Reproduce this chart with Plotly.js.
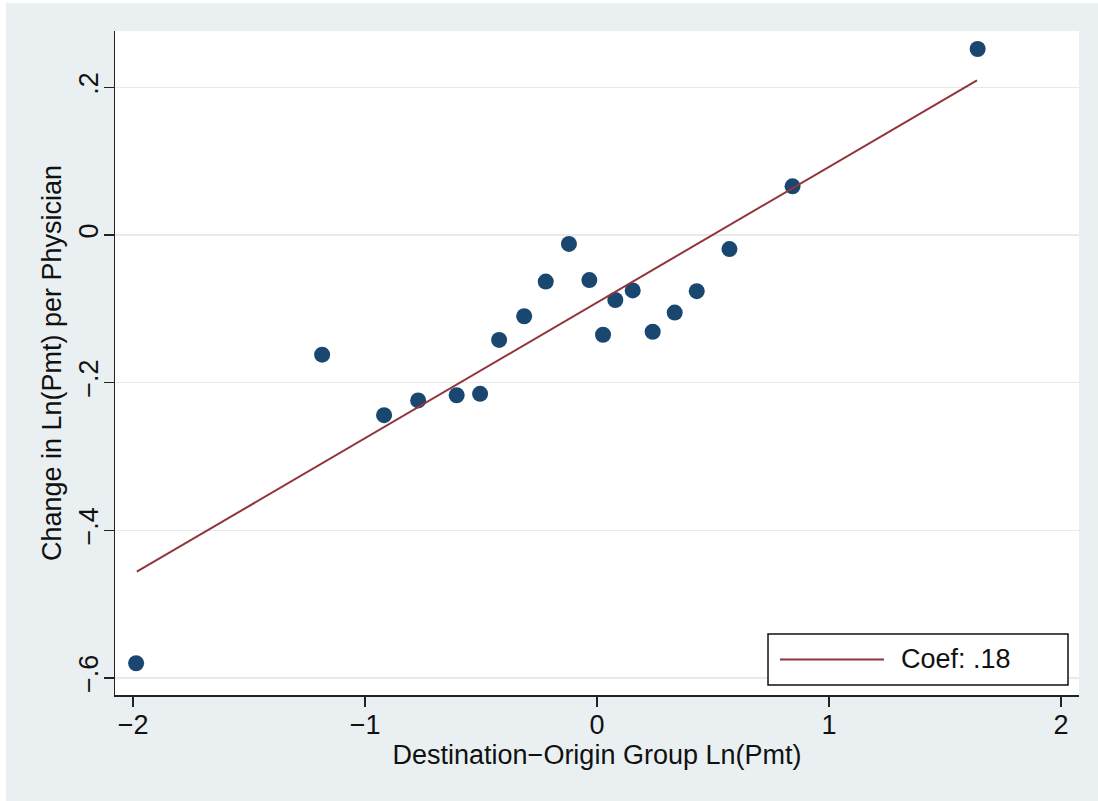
<!DOCTYPE html>
<html>
<head>
<meta charset="utf-8">
<script src="https://cdn.plot.ly/plotly-3.0.1.min.js"></script>
<style>
  html, body { margin: 0; padding: 0; background: #ffffff; }
  #chart { position: absolute; left: 6px; top: 3px; width: 1092px; height: 798px; }
</style>
</head>
<body>
<div id="chart"></div>
<script>
// Data
const groupDiff = [-1.987, -1.185, -0.918, -0.771, -0.605, -0.504, -0.422, -0.314, -0.221, -0.121,
                   -0.033, 0.026, 0.079, 0.154, 0.240, 0.335, 0.430, 0.571, 0.843, 1.641];
const changeLnPmt = [-0.580, -0.162, -0.244, -0.224, -0.217, -0.215, -0.142, -0.110, -0.063, -0.012,
                     -0.061, -0.135, -0.088, -0.075, -0.131, -0.105, -0.076, -0.019, 0.066, 0.252];
const fitX = [-1.984, 1.638];
const fitY = [-0.456, 0.2096];
const legendLabel = "Coef: .18";

const xTickVals = [-2, -1, 0, 1, 2];
const xTickText = ["\u22122", "\u22121", "0", "1", "2"];
const yTickVals = [-0.6, -0.4, -0.2, 0, 0.2];
const yTickText = ["\u2212.6", "\u2212.4", "\u2212.2", "0", ".2"];

const xTitle = "Destination\u2212Origin Group Ln(Pmt)";
const yTitle = "Change in Ln(Pmt) per Physician";

const FONT = "Liberation Sans, Arial, Helvetica, sans-serif";

const traces = [
  {
    x: groupDiff, y: changeLnPmt, type: "scatter", mode: "markers",
    marker: { color: "#1a476f", size: 16 },
    showlegend: false, hoverinfo: "x+y"
  },
  {
    x: fitX, y: fitY, type: "scatter", mode: "lines",
    line: { color: "#90353b", width: 2 },
    name: legendLabel, showlegend: false
  }
];

const layout = {
  width: 1092, height: 798,
  paper_bgcolor: "#eaf0f2",
  plot_bgcolor: "#ffffff",
  margin: { l: 109, r: 19, t: 28, b: 106 },
  font: { family: FONT, size: 27, color: "#111111" },
  showlegend: false,
  xaxis: {
    range: [-2.078, 2.078],
    tickvals: xTickVals, ticktext: xTickText,
    showgrid: false, zeroline: false,
    showline: true, linecolor: "#222222", linewidth: 1.5,
    ticks: "outside", ticklen: 10, tickwidth: 1.5, tickcolor: "#222222",
    tickfont: { size: 27 },
    ticklabelstandoff: -5,
    title: { text: xTitle, font: { size: 27 }, standoff: 1 },
    automargin: false
  },
  yaxis: {
    range: [-0.623, 0.2764],
    tickvals: yTickVals, ticktext: yTickText,
    tickangle: -90,
    showgrid: true, gridcolor: "#eaeaea", gridwidth: 1.5,
    zeroline: false,
    showline: true, linecolor: "#222222", linewidth: 1.5,
    ticks: "outside", ticklen: 10, tickwidth: 1.5, tickcolor: "#222222",
    tickfont: { size: 27 },
    ticklabelstandoff: -5,
    title: { text: yTitle, font: { size: 27 }, standoff: 4 },
    automargin: false
  },
  shapes: [
    { type: "rect", xref: "paper", yref: "paper",
      x0: 0.6774, x1: 0.9886, y0: 0.0151, y1: 0.0919,
      line: { color: "#111111", width: 1.5 }, fillcolor: "#ffffff", layer: "above" },
    { type: "line", xref: "paper", yref: "paper",
      x0: 0.6898, x1: 0.7977, y0: 0.0535, y1: 0.0535,
      line: { color: "#90353b", width: 2 }, layer: "above" }
  ],
  annotations: [
    { xref: "paper", yref: "paper", x: 0.8133, y: 0.0535,
      xanchor: "left", yanchor: "middle", showarrow: false,
      text: legendLabel, font: { size: 27, color: "#111111" } }
  ]
};

Plotly.newPlot("chart", traces, layout, { displayModeBar: false, staticPlot: true });
</script>
</body>
</html>
